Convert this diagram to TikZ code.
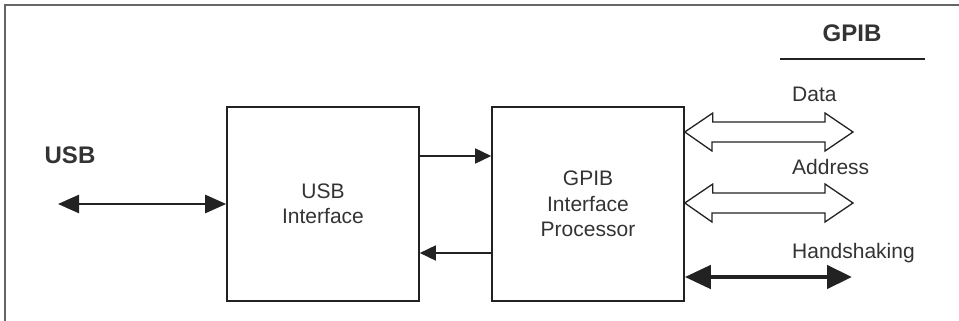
\documentclass[tikz,border=0pt]{standalone}
\usepackage{fontspec}
\setmainfont{Liberation Sans}
\usetikzlibrary{arrows.meta}
\definecolor{ink}{HTML}{222222}
\definecolor{txt}{HTML}{333333}
\definecolor{framec}{HTML}{666666}
\begin{document}
\begin{tikzpicture}[x=1pt,y=-1pt,
  blockbox/.style={draw=ink, line width=1.6pt, minimum width=192pt, minimum height=194pt,
    inner sep=0pt, align=center, text=txt, font=\fontsize{21}{25.5}\selectfont},
  lbl/.style={text=txt, inner sep=0pt, font=\fontsize{21}{25}\selectfont},
  blbl/.style={text=txt, inner sep=0pt, font=\bfseries\fontsize{24}{28}\selectfont},
  thinarrow/.style={draw=ink, line width=1.6pt, -{Triangle[length=16pt,width=15pt]}},
  usbarrow/.style={draw=ink, line width=2.5pt, {Triangle[length=21pt,width=18pt]}-{Triangle[length=21pt,width=18pt]}},
  hsarrow/.style={draw=ink, line width=4.5pt, {Triangle[length=26pt,width=23pt]}-{Triangle[length=25pt,width=23pt]}},
  busarrow/.style={draw=ink, line width=1.3pt, fill=white, line join=miter}
]
\useasboundingbox (0,0) rectangle (959,321);
\draw[framec, line width=1.2pt] (5,321) -- (5,5) -- (959,5);

\node[blockbox] (usbi) at (323,204) {USB\\Interface};
\node[blockbox] (gpibp) at (588,204) {GPIB\\Interface\\Processor};

\node[blbl, anchor=base] (usblbl) at (70,163) {USB};
\coordinate (usbend) at (58,204);
\draw[usbarrow] (usbend) -- (usbi.west |- usbend);

\draw[thinarrow] (usbi.east |- 0,156) -- (gpibp.west |- 0,156);
\draw[thinarrow] (gpibp.west |- 0,253) -- (usbi.east |- 0,253);

\node[blbl, anchor=base] (gpiblbl) at (852,42) {GPIB};
\coordinate (ulA) at (780,59);
\coordinate (ulB) at (925,59);
\draw[ink, line width=1.5pt] (ulA) -- (ulB);

\node[lbl, anchor=base west] (datalbl) at (792,101) {Data};
\node[lbl, anchor=base west] (addrlbl) at (792,174) {Address};
\node[lbl, anchor=base west] (hslbl) at (792,258) {Handshaking};

% hollow bus arrows
\coordinate (dataend) at (853,132);
\draw[busarrow] (gpibp.east |- dataend) -- ++(28,-19) -- ++(0,9) -- (825,122) -- (825,113)
  -- (dataend) -- (825,151) -- (825,142) -- (712,142) -- (712,151) -- cycle;
\coordinate (addrend) at (853,203);
\draw[busarrow] (gpibp.east |- addrend) -- ++(28,-19) -- ++(0,9) -- (825,193) -- (825,184)
  -- (addrend) -- (825,222) -- (825,213) -- (712,213) -- (712,222) -- cycle;

\coordinate (hsend) at (852,277);
\draw[hsarrow] (gpibp.east |- hsend) -- (hsend);
\end{tikzpicture}
\end{document}
